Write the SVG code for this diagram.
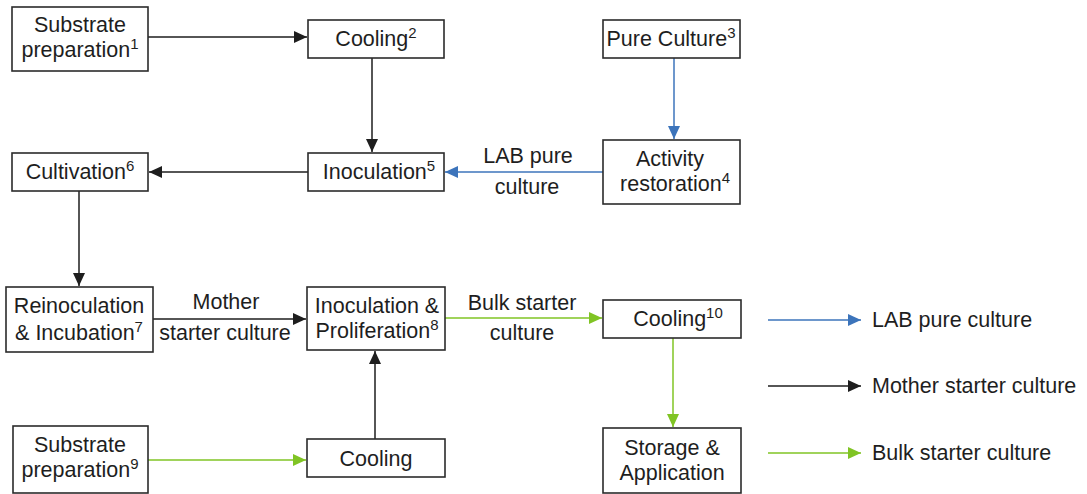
<svg xmlns="http://www.w3.org/2000/svg" width="1087" height="494" viewBox="0 0 1087 494">
<style>
.box{fill:#fff;stroke:#2b2b2b;stroke-width:1.6}
text{font-family:"Liberation Sans",Arial,sans-serif;font-size:21.5px;fill:#1e1e1e}
.c{text-anchor:middle}
.sup{font-size:15px}
.k{stroke:#1e1e1e;stroke-width:1.5;fill:none}
.b{stroke:#3c74bb;stroke-width:1.5;fill:none}
.g{stroke:#80c424;stroke-width:1.5;fill:none}
</style>
<defs>
<marker id="ak" markerUnits="userSpaceOnUse" markerWidth="14" markerHeight="13" refX="13" refY="6.5" orient="auto"><path d="M0,0.5 L13,6.5 L0,12.5 z" fill="#1e1e1e"/></marker>
<marker id="ab" markerUnits="userSpaceOnUse" markerWidth="14" markerHeight="13" refX="13" refY="6.5" orient="auto"><path d="M0,0.5 L13,6.5 L0,12.5 z" fill="#3c74bb"/></marker>
<marker id="ag" markerUnits="userSpaceOnUse" markerWidth="14" markerHeight="13" refX="13" refY="6.5" orient="auto"><path d="M0,0.5 L13,6.5 L0,12.5 z" fill="#80c424"/></marker>
</defs>

<g id="connectors">
<line class="k" x1="148" y1="37" x2="307" y2="37" marker-end="url(#ak)"/>
<line class="k" x1="372" y1="58" x2="372" y2="152" marker-end="url(#ak)"/>
<line class="b" x1="674" y1="58" x2="674" y2="139" marker-end="url(#ab)"/>
<line class="b" x1="603" y1="172" x2="445" y2="172" marker-end="url(#ab)"/>
<line class="k" x1="308" y1="172" x2="149" y2="172" marker-end="url(#ak)"/>
<line class="k" x1="79" y1="191" x2="79" y2="286" marker-end="url(#ak)"/>
<line class="k" x1="153" y1="319" x2="306" y2="319" marker-end="url(#ak)"/>
<line class="k" x1="375" y1="439" x2="375" y2="351" marker-end="url(#ak)"/>
<line class="g" x1="148" y1="460" x2="306" y2="460" marker-end="url(#ag)"/>
<line class="g" x1="445" y1="318" x2="602" y2="318" marker-end="url(#ag)"/>
<line class="g" x1="673" y1="338" x2="673" y2="427" marker-end="url(#ag)"/>
<text class="c" x="528" y="163">LAB pure</text>
<text class="c" x="527" y="194">culture</text>
<text class="c" x="226" y="309">Mother</text>
<text class="c" x="225" y="340">starter culture</text>
<text class="c" x="522" y="310">Bulk starter</text>
<text class="c" x="522" y="340">culture</text>
</g>

<g id="n1"><rect class="box" x="12" y="7" width="136" height="64"/>
<text class="c" x="80" y="32">Substrate</text>
<text class="c" x="80" y="57">preparation<tspan class="sup" dy="-8">1</tspan></text></g>

<g id="n2"><rect class="box" x="308" y="20" width="136" height="38"/>
<text class="c" x="376" y="46">Cooling<tspan class="sup" dy="-8">2</tspan></text></g>

<g id="n3"><rect class="box" x="603" y="20" width="137" height="38"/>
<text class="c" x="671" y="46">Pure Culture<tspan class="sup" dy="-8">3</tspan></text></g>

<g id="n4"><rect class="box" x="603" y="140" width="137" height="64"/>
<text class="c" x="670" y="166">Activity</text>
<text class="c" x="675" y="191">restoration<tspan class="sup" dy="-8">4</tspan></text></g>

<g id="n5"><rect class="box" x="308" y="153" width="136" height="38"/>
<text class="c" x="379" y="179">Inoculation<tspan class="sup" dy="-8">5</tspan></text></g>

<g id="n6"><rect class="box" x="12" y="153" width="136" height="38"/>
<text class="c" x="80" y="179">Cultivation<tspan class="sup" dy="-8">6</tspan></text></g>

<g id="n7"><rect class="box" x="6" y="287" width="147" height="65"/>
<text class="c" x="79" y="313">Reinoculation</text>
<text class="c" x="79" y="340">&amp; Incubation<tspan class="sup" dy="-8">7</tspan></text></g>

<g id="n8"><rect class="box" x="307" y="287" width="138" height="63"/>
<text class="c" x="377" y="313">Inoculation &amp;</text>
<text class="c" x="377" y="338">Proliferation<tspan class="sup" dy="-8">8</tspan></text></g>

<g id="n9"><rect class="box" x="13" y="426" width="135" height="67"/>
<text class="c" x="80" y="452">Substrate</text>
<text class="c" x="80" y="477">preparation<tspan class="sup" dy="-8">9</tspan></text></g>

<g id="n10"><rect class="box" x="307" y="439" width="138" height="38"/>
<text class="c" x="376" y="466">Cooling</text></g>

<g id="n11"><rect class="box" x="603" y="300" width="138" height="38"/>
<text class="c" x="678" y="326">Cooling<tspan class="sup" dy="-8">10</tspan></text></g>

<g id="n12"><rect class="box" x="603" y="428" width="138" height="65"/>
<text class="c" x="672" y="455">Storage &amp;</text>
<text class="c" x="672" y="480">Application</text></g>

<g id="legend">
<line class="b" x1="768" y1="320" x2="861" y2="320" marker-end="url(#ab)"/>
<line class="k" x1="768" y1="386" x2="861" y2="386" marker-end="url(#ak)"/>
<line class="g" x1="768" y1="453" x2="861" y2="453" marker-end="url(#ag)"/>
<text x="872" y="327">LAB pure culture</text>
<text x="872" y="393">Mother starter culture</text>
<text x="872" y="460">Bulk starter culture</text>
</g>
</svg>
